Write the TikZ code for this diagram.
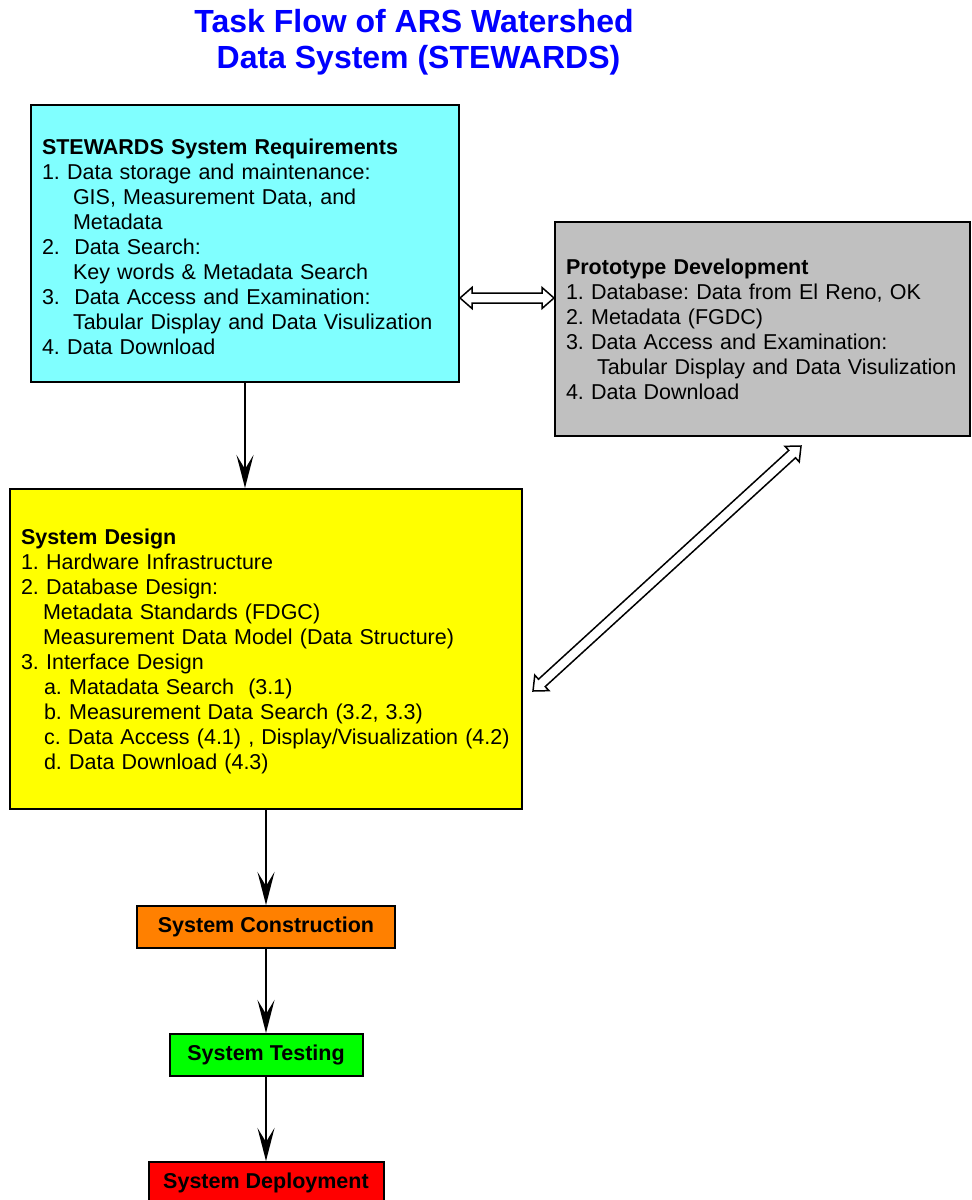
\documentclass[tikz,border=0pt]{standalone}
\usepackage{fontspec}
\setmainfont{Liberation Sans}
\frenchspacing
\usetikzlibrary{arrows.meta,calc}
\definecolor{reqcol}{HTML}{80FFFF}
\definecolor{designcol}{HTML}{FFFF00}
\definecolor{protocol}{HTML}{C0C0C0}
\definecolor{constrcol}{HTML}{FF8000}
\definecolor{testcol}{HTML}{00FF00}
\definecolor{deploycol}{HTML}{FF0000}
\definecolor{titlecol}{HTML}{0000FF}
\tikzset{
  bigbox/.style={draw=black, line width=2pt, rectangle, inner xsep=11pt, inner ysep=0pt,
    align=left, font=\fontsize{21.5}{25}\selectfont\frenchspacing},
  smallbox/.style={draw=black, line width=2pt, rectangle, inner sep=0pt,
    font=\fontsize{21.5}{25}\selectfont\bfseries},
  flowarrow/.style={line width=2pt, -{Stealth[length=33pt,width=17pt,inset=14pt]}},
  blockarr/.style={draw=black, fill=white, line width=1.5pt, line join=miter},
}
\newcommand{\blockarrow}[2]{%
  \coordinate (ha) at ($(#1)!12pt!(#2)$);
  \coordinate (hb) at ($(#2)!12pt!(#1)$);
  \draw[blockarr] (#1) -- ($(ha)!10.5pt!90:(#2)$) -- ($(ha)!5pt!90:(#2)$)
    -- ($(hb)!5pt!-90:(#1)$) -- ($(hb)!10.5pt!-90:(#1)$) -- (#2)
    -- ($(hb)!10.5pt!90:(#1)$) -- ($(hb)!5pt!90:(#1)$)
    -- ($(ha)!5pt!-90:(#2)$) -- ($(ha)!10.5pt!-90:(#2)$) -- cycle;
}
\begin{document}
\begin{tikzpicture}[x=1pt,y=-1pt]
\useasboundingbox (0,0) rectangle (972,1200);

\node[anchor=north, align=center, text=titlecol, inner sep=0pt,
      font=\fontsize{32}{36}\selectfont\bfseries] (title) at (414,9)
  {Task Flow of ARS Watershed\\\hspace*{0.28em}Data System (STEWARDS)};

\node[bigbox, fill=reqcol, minimum width=428pt, minimum height=277pt, text width=406pt] (req) at (245,243.5)
  {\rule{0pt}{22pt}\textbf{STEWARDS System Requirements}\\
   1. Data storage and maintenance:\\
   \hspace*{31pt}GIS, Measurement Data, and\\
   \hspace*{31pt}Metadata\\
   2.\ \ Data Search:\\
   \hspace*{31pt}Key words \& Metadata Search\\
   3.\ \ Data Access and Examination:\\
   \hspace*{31pt}Tabular Display and Data Visulization\\
   4. Data Download};

\node[bigbox, fill=protocol, minimum width=415pt, minimum height=214pt, text width=393pt] (proto) at (762.5,329)
  {\textbf{Prototype Development}\\
   1. Database: Data from El Reno, OK\\
   2. Metadata (FGDC)\\
   3. Data Access and Examination:\\
   \hspace*{31pt}Tabular Display and Data Visulization\\
   4. Data Download};

\node[bigbox, fill=designcol, minimum width=512pt, minimum height=320pt, text width=490pt] (design) at (266,649)
  {\rule{0pt}{20pt}\textbf{System Design}\\
   1. Hardware Infrastructure\\
   2. Database Design:\\
   \hspace*{22pt}Metadata Standards (FDGC)\\
   \hspace*{22pt}Measurement Data Model (Data Structure)\\
   3. Interface Design\\
   \hspace*{23pt}a. Matadata Search\ \ (3.1)\\
   \hspace*{23pt}b. Measurement Data Search (3.2, 3.3)\\
   \hspace*{23pt}c. Data Access (4.1) , Display/Visualization (4.2)\\
   \hspace*{23pt}d. Data Download (4.3)};

\node[smallbox, fill=constrcol, minimum width=258pt, minimum height=42pt] (constr) at (266,927) {System Construction};
\node[smallbox, fill=testcol, minimum width=193pt, minimum height=42pt] (test) at (266,1055) {System Testing};
\node[smallbox, fill=deploycol, minimum width=235pt, minimum height=42pt] (deploy) at (266,1183) {System Deployment};

\draw[flowarrow] (req.south) -- (req.south |- design.north);
\draw[flowarrow] (design.south) -- (constr.north);
\draw[flowarrow] (constr.south) -- (test.north);
\draw[flowarrow] (test.south) -- (deploy.north);

\coordinate (ra) at (req.east |- 0,298);
\coordinate (pa) at (proto.west |- 0,298);
\blockarrow{ra}{pa}

\coordinate (da) at (533,691);
\coordinate (pb) at (801,446);
\blockarrow{da}{pb}
\end{tikzpicture}
\end{document}
